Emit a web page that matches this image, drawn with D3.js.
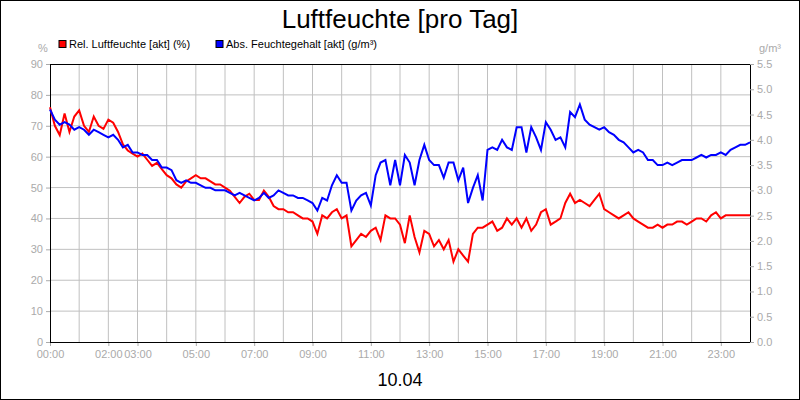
<!DOCTYPE html>
<html><head><meta charset="utf-8">
<script src="https://cdn.jsdelivr.net/npm/d3@7"></script>
<style>body{margin:0;background:#fff}svg{display:block;font-family:Arial,"Liberation Sans",sans-serif}</style>
</head><body><svg id="c" width="800" height="400"></svg>
<script>
// 10-minute readings, 00:00 .. 24:00
const relHum = [76,70,67,74,68,73, 75,70,68,73,70,69, 72,71,68,64,62,61, 60,61,59,57,58,56,
  54,53,51,50,52,53, 54,53,53,52,51,51, 50,49,47,45,47,48, 46,46,49,47,44,43,
  43,42,42,41,40,40, 39,35,41,40,42,43, 40,41,31,33,35,34, 36,37,33,41,40,40,
  38,32,41,34,29,36, 35,31,33,30,33,26, 30,28,26,35,37,37, 38,39,36,37,40,38,
  40,37,40,36,38,42, 43,38,39,40,45,48, 45,46,45,44,46,48, 43,42,41,40,41,42,
  40,39,38,37,37,38, 37,38,38,39,39,38, 39,40,40,39,41,42, 40,41,41,41,41,41, 41];
const absHum = [4.6,4.4,4.3,4.35,4.3,4.2, 4.25,4.2,4.1,4.2,4.15,4.1, 4.05,4.1,4.0,3.85,3.9,3.75,
  3.75,3.7,3.7,3.6,3.6,3.45, 3.45,3.4,3.2,3.15,3.2,3.15, 3.15,3.1,3.05,3.05,3.0,3.0,
  3.0,2.95,2.9,2.95,2.9,2.85, 2.8,2.85,2.95,2.85,2.9,3.0, 2.95,2.9,2.9,2.85,2.85,2.8,
  2.75,2.6,2.85,2.8,3.1,3.3, 3.15,3.15,2.6,2.8,2.9,2.95, 2.7,3.3,3.55,3.6,3.1,3.6,
  3.1,3.7,3.55,3.1,3.6,3.9, 3.6,3.5,3.5,3.25,3.55,3.55, 3.2,3.45,2.75,3.05,3.3,2.8,
  3.8,3.85,3.8,4.0,3.85,3.8, 4.25,4.25,3.75,4.25,4.05,3.8, 4.35,4.2,4.0,4.05,3.85,4.55,
  4.45,4.7,4.4,4.3,4.25,4.2, 4.25,4.15,4.1,4.0,3.95,3.85, 3.75,3.8,3.75,3.6,3.6,3.5,
  3.5,3.55,3.5,3.55,3.6,3.6, 3.6,3.65,3.7,3.65,3.7,3.7, 3.75,3.7,3.8,3.85,3.9,3.9, 3.95];
const hourLabels = ["00:00","02:00","03:00","05:00","07:00","09:00","11:00","13:00","15:00","17:00","19:00","21:00","23:00"];
const leftTicks = d3.range(0, 91, 10);
const rightTicks = d3.range(0, 5.51, 0.5);

const svg = d3.select("#c");
const W = 800, H = 400, L = 50, R = 750, T = 64, B = 342;
const grey = "#aaa", gridCol = "#c0c0c0";

svg.append("rect").attr("x",0.5).attr("y",0.5).attr("width",W-1).attr("height",H-1)
  .attr("fill","#fff").attr("stroke","#000");

const x = d3.scaleLinear().domain([0, 24]).range([L, R]);
const yL = d3.scaleLinear().domain([0, 90]).range([B, T]);
const yR = d3.scaleLinear().domain([0, 5.5]).range([B, T]);

// grid
svg.append("g").selectAll("line").data(d3.range(1, 24)).join("line")
  .attr("x1", d => x(d)).attr("x2", d => x(d)).attr("y1", T).attr("y2", B)
  .attr("stroke", gridCol);
svg.append("g").selectAll("line").data(leftTicks.slice(1, -1)).join("line")
  .attr("x1", L).attr("x2", R).attr("y1", d => yL(d)).attr("y2", d => yL(d))
  .attr("stroke", gridCol);

// axes
const styleAxis = g => {
  g.selectAll(".tick line").attr("stroke", grey);
  g.selectAll(".tick text").attr("fill", grey).style("font-size", "11px");
  g.select(".domain").attr("stroke", "#000");
};
svg.append("g").attr("transform", `translate(${L},0)`)
  .call(d3.axisLeft(yL).tickValues(leftTicks).tickSize(4).tickPadding(3)).call(styleAxis);
svg.append("g").attr("transform", `translate(${R},0)`)
  .call(d3.axisRight(yR).tickValues(rightTicks).tickFormat(d3.format(".1f")).tickSize(4).tickPadding(3)).call(styleAxis);
svg.append("g").attr("transform", `translate(0,${B})`)
  .call(d3.axisBottom(x).tickValues([0,2,3,5,7,9,11,13,15,17,19,21,23])
    .tickFormat((d, i) => hourLabels[i]).tickSize(4).tickPadding(4)).call(styleAxis)
  .call(g => g.select(".domain").remove());
svg.append("line").attr("x1",L).attr("x2",R).attr("y1",T+0.5).attr("y2",T+0.5).attr("stroke","#000");
svg.append("line").attr("x1",L).attr("x2",R).attr("y1",B+0.5).attr("y2",B+0.5).attr("stroke","#000");

// lines
const tOf = i => i / 6;
svg.append("path").datum(relHum).attr("fill","none").attr("stroke","#f00").attr("stroke-width",2)
  .attr("d", d3.line().x((d, i) => x(tOf(i))).y(d => yL(d)));
svg.append("path").datum(absHum).attr("fill","none").attr("stroke","#00f").attr("stroke-width",2)
  .attr("d", d3.line().x((d, i) => x(tOf(i))).y(d => yR(d)));

// texts
svg.append("text").attr("x", W/2).attr("y", 28).attr("text-anchor","middle")
  .style("font-size","26px").text("Luftfeuchte [pro Tag]");
svg.append("text").attr("x", W/2).attr("y", 386).attr("text-anchor","middle")
  .style("font-size","18px").text("10.04");
svg.append("text").attr("x", 43).attr("y", 52).attr("text-anchor","middle").attr("fill",grey)
  .style("font-size","11px").text("%");
svg.append("text").attr("x", 770).attr("y", 52).attr("text-anchor","middle").attr("fill",grey)
  .style("font-size","11px").text("g/m³");

const legend = [["Rel. Luftfeuchte [akt] (%)","#f00",59],["Abs. Feuchtegehalt [akt] (g/m³)","#00f",216]];
legend.forEach(([t, c, lx]) => {
  svg.append("rect").attr("x", lx).attr("y", 40.5).attr("width", 7).attr("height", 7)
    .attr("fill", c).attr("stroke", "#000");
  svg.append("text").attr("x", lx + 10).attr("y", 48).style("font-size","11px").text(t);
});
</script></body></html>
